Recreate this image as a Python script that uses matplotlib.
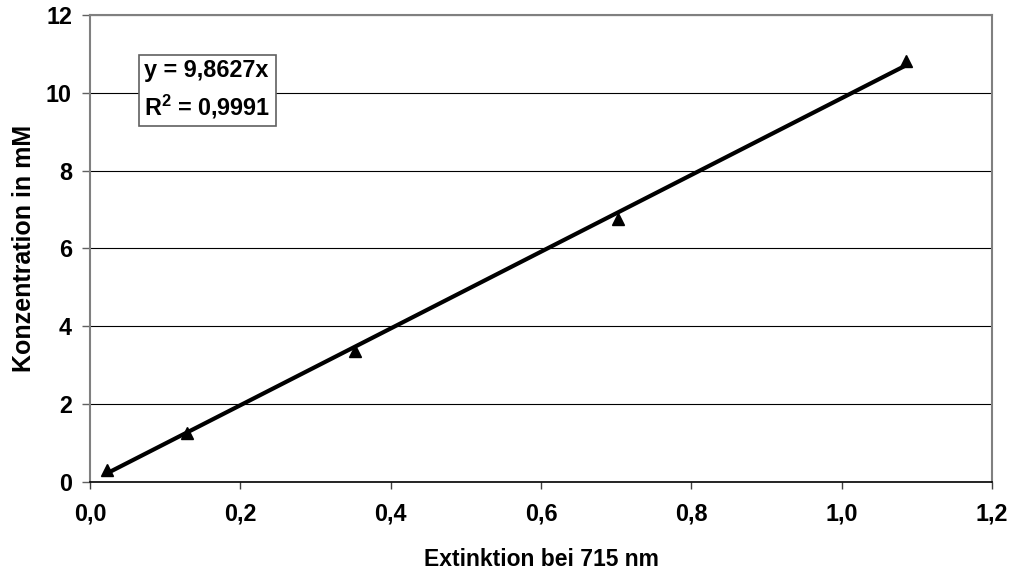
import numpy as np
import matplotlib
matplotlib.use("Agg")
import matplotlib.pyplot as plt
from matplotlib.ticker import FuncFormatter

plt.rcParams['font.family'] = ['Liberation Sans', 'DejaVu Sans']
plt.rcParams['font.weight'] = 'bold'
plt.rcParams['mathtext.fontset'] = 'custom'
plt.rcParams['mathtext.rm'] = 'Liberation Sans:bold'
plt.rcParams['mathtext.bf'] = 'Liberation Sans:bold'

# Messwerte
extinktion = [0.022, 0.129, 0.353, 0.702, 1.085]
konzentration = [0.31, 1.26, 3.36, 6.76, 10.82]
slope = 9.8627
r2_text = "0,9991"

x_ticks = [0.0, 0.2, 0.4, 0.6, 0.8, 1.0, 1.2]
y_ticks = [0, 2, 4, 6, 8, 10, 12]

fig = plt.figure(figsize=(10.13, 5.77), dpi=100)
ax = fig.add_axes([90 / 1013, 1 - 482 / 577, 902 / 1013, 467 / 577])

# Trendlinie durch den Ursprung
xl = np.array([min(extinktion), max(extinktion)])
ax.plot(xl, slope * xl, color='black', lw=3, zorder=3)
ax.plot(extinktion, konzentration, linestyle='none', marker='^', ms=9,
        color='black', zorder=4)

ax.set_xlim(0, 1.2)
ax.set_ylim(0, 12)
ax.set_xticks(x_ticks)
ax.set_yticks(y_ticks)
ax.xaxis.set_major_formatter(FuncFormatter(lambda v, p: f"{v:.1f}".replace('.', ',')))
ax.yaxis.grid(True, color='black', lw=0.8)
ax.set_axisbelow(True)

for s in ['top', 'right', 'left']:
    ax.spines[s].set_color('#808080')
    ax.spines[s].set_linewidth(1.5)
ax.spines['bottom'].set_color('black')
ax.spines['bottom'].set_linewidth(1.2)

ax.tick_params(axis='x', direction='out', length=5, width=1, color='#404040',
               labelsize=16.8, pad=10)
ax.tick_params(axis='y', direction='out', length=6, width=1, color='#606060',
               labelsize=16.8, pad=7)
for lab in ax.get_xticklabels() + ax.get_yticklabels():
    lab.set_fontweight('bold')

ax.set_xlabel("Extinktion bei 715 nm", fontsize=16.5, fontweight='bold')
ax.set_ylabel("Konzentration in mM", fontsize=18, fontweight='bold')
ax.xaxis.set_label_coords(0.5, -0.142)
ax.yaxis.set_label_coords(-0.06, 0.5)

eq = f"y = {slope:.4f}x".replace('.', ',') + "\n" + r"R$^{2}$ = " + r2_text
ax.text(0.060, 0.905, eq, transform=ax.transAxes, fontsize=16.8, fontweight='bold',
        ha='left', va='top', linespacing=1.45,
        bbox=dict(boxstyle='square,pad=0.22', facecolor='white', edgecolor='#606060', lw=1.2))

fig.savefig("out.png", dpi=100)
